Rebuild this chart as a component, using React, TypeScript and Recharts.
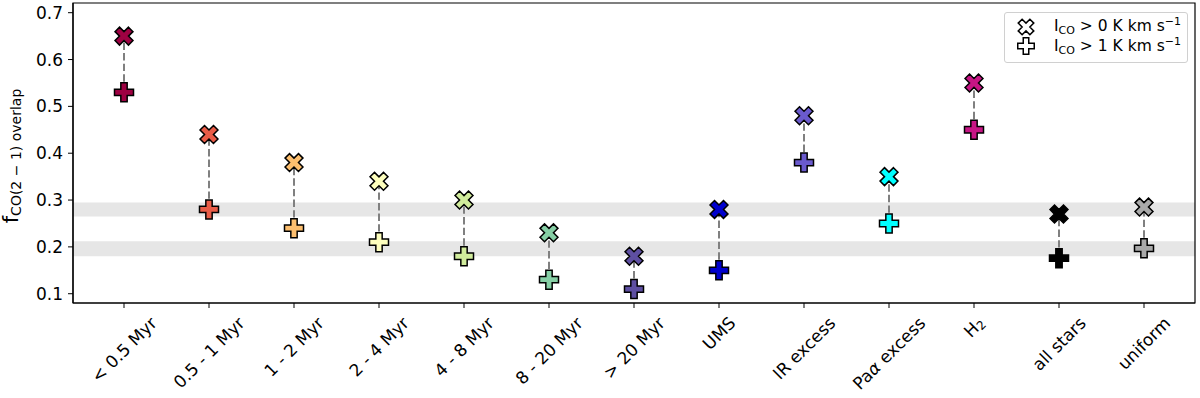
import React from 'react';
import {
  ScatterChart, Scatter, XAxis, YAxis, ReferenceArea, ReferenceLine, Legend,
} from 'recharts';

const categories = [
  '< 0.5 Myr', '0.5 - 1 Myr', '1 - 2 Myr', '2 - 4 Myr', '4 - 8 Myr', '8 - 20 Myr', '> 20 Myr',
  'UMS', 'IR excess', 'Paα excess', 'H2', 'all stars', 'uniform',
];
// I_CO > 0 K km/s (X markers) and I_CO > 1 K km/s (plus markers)
const overlapAbove0 = [0.65, 0.44, 0.38, 0.34, 0.30, 0.23, 0.18, 0.28, 0.48, 0.35, 0.55, 0.27, 0.285];
const overlapAbove1 = [0.53, 0.28, 0.24, 0.21, 0.18, 0.13, 0.11, 0.15, 0.38, 0.25, 0.45, 0.176, 0.197];
const markerColors = [
  '#9e0142', '#e95c47', '#fdbf6f', '#feffbe', '#d1ec9c', '#86cfa5', '#5e4fa2',
  '#0000cd', '#6a5acd', '#00ffff', '#c71585', '#000000', '#a9a9a9',
];
const grayBands = [[0.18, 0.212], [0.265, 0.295]];
const yTicks = [0.1, 0.2, 0.3, 0.4, 0.5, 0.6, 0.7];
const xTicks = categories.map((_, i) => i);
const xDomain = [-0.6, 12.6];
const yDomain = [0.0802, 0.7207];

const FONT = 'DejaVu Sans';
const TICK_FS = 17;
const MS = 19;

const highPts = categories.map((_, i) => ({ x: i, y: overlapAbove0[i], color: markerColors[i] }));
const lowPts = categories.map((_, i) => ({ x: i, y: overlapAbove1[i], color: markerColors[i] }));

// matplotlib filled plus path, unit size
const plusVerts = [[-1, -3], [1, -3], [1, -1], [3, -1], [3, 1], [1, 1], [1, 3], [-1, 3], [-1, 1], [-3, 1], [-3, -1], [-1, -1]];

const markerPath = (cx: number, cy: number, size: number, rotate: boolean) => {
  const c = Math.SQRT1_2;
  return plusVerts.map(([a, b], k) => {
    let px = (a / 6) * size;
    let py = (b / 6) * size;
    if (rotate) {
      const rx = px * c - py * c;
      const ry = px * c + py * c;
      px = rx; py = ry;
    }
    return `${k === 0 ? 'M' : 'L'}${(cx + px).toFixed(2)},${(cy + py).toFixed(2)}`;
  }).join(' ') + ' Z';
};

const XMarker = (props: any) => (
  <path d={markerPath(props.cx, props.cy, MS, true)} fill={props.payload.color} stroke="#000" strokeWidth={1.5} strokeLinejoin="miter" />
);
const PlusMarker = (props: any) => (
  <path d={markerPath(props.cx, props.cy, MS, false)} fill={props.payload.color} stroke="#000" strokeWidth={1.5} strokeLinejoin="miter" />
);

let ctx: CanvasRenderingContext2D | null = null;
const measure = (text: string, size: number) => {
  if (!ctx) ctx = document.createElement('canvas').getContext('2d');
  if (!ctx) return text.length * size * 0.6;
  ctx.font = `${size}px "${FONT}"`;
  return ctx.measureText(text).width;
};

const labelBody = (label: string) => {
  if (label === 'H2') {
    return [<tspan key="h">H</tspan>, <tspan key="s" fontSize={12} dy={4}>2</tspan>];
  }
  if (label === 'Paα excess') {
    return [<tspan key="p">Pa</tspan>, <tspan key="a" fontStyle="italic">α</tspan>, <tspan key="e"> excess</tspan>];
  }
  return label;
};

const XTick = (props: any) => {
  const { x, y, payload } = props;
  const label = categories[payload.value];
  const w = measure(label === 'H2' ? 'H₂' : label, TICK_FS);
  const h = TICK_FS * 1.164;
  const cy = y + 5 + (w + h) * 0.3536;
  return (
    <g transform={`translate(${x},${cy}) rotate(-45)`}>
      <text textAnchor="middle" dominantBaseline="central" fontFamily={FONT} fontSize={TICK_FS} fill="#000">
        {labelBody(label)}
      </text>
    </g>
  );
};

const YLabel = (props: any) => {
  const vb = props.viewBox || { y: 3, height: 300 };
  const cy = vb.y + vb.height / 2 + 3;
  return (
    <text transform={`translate(18,${cy}) rotate(-90)`} textAnchor="middle" fontFamily={FONT} fill="#000">
      <tspan fontSize={21}>f</tspan>
      <tspan fontSize={14} dy={3}>CO(2 − 1) overlap</tspan>
    </text>
  );
};

const LegendMarker = ({ rotate }: { rotate: boolean }) => (
  <svg width={22} height={20} style={{ display: 'block' }}>
    <path d={markerPath(11, 10, 16.5, rotate)} fill="#fff" stroke="#000" strokeWidth={1.5} />
  </svg>
);

const LegendRow = ({ rotate, value }: { rotate: boolean, value: string }) => (
  <div style={{ display: 'flex', alignItems: 'center', height: 19.5 }}>
    <div style={{ width: 22, marginLeft: 10, marginRight: 17 }}><LegendMarker rotate={rotate} /></div>
    <span style={{ fontFamily: FONT, fontSize: 15.5, whiteSpace: 'nowrap', color: '#000', lineHeight: '19px' }}>
      I<sub style={{ fontSize: 11, verticalAlign: -3, lineHeight: 0 }}>CO</sub> &gt; {value} K km s<sup style={{ fontSize: 11, verticalAlign: 6, lineHeight: 0 }}>−1</sup>
    </span>
  </div>
);

const renderLegend = () => (
  <div style={{
    border: '1px solid #d0d0d0', borderRadius: 3, background: 'rgba(255,255,255,0.8)',
    width: 184, height: 51, boxSizing: 'border-box', paddingTop: 4, display: 'flex', flexDirection: 'column',
  }}>
    <LegendRow rotate value="0" />
    <LegendRow rotate={false} value="1" />
  </div>
);

export default function App() {
  return (
    <div style={{ position: 'absolute', left: 0, top: 0, width: 1200, height: 398, background: '#fff' }}>
      <ScatterChart width={1200} height={398} margin={{ top: 3, right: 5, bottom: 0, left: 0 }}>
        {grayBands.map(([lo, hi], i) => (
          <ReferenceArea key={`band${i}`} y1={lo} y2={hi} fill="#e6e6e6" fillOpacity={1} stroke="none" ifOverflow="hidden" />
        ))}
        <ReferenceArea
          x1={xDomain[0]} x2={xDomain[1]} y1={yDomain[0]} y2={yDomain[1]}
          fill="none" fillOpacity={0} stroke="#000" strokeWidth={1.2} ifOverflow="visible"
        />
        <XAxis
          type="number" dataKey="x" domain={xDomain} ticks={xTicks} interval={0} allowDataOverflow
          height={95} tickSize={5} tickMargin={0} tick={<XTick />}
          axisLine={{ stroke: '#000', strokeWidth: 1.2 }} tickLine={{ stroke: '#000', strokeWidth: 1 }}
        />
        <YAxis
          type="number" dataKey="y" domain={yDomain} ticks={yTicks} allowDataOverflow
          width={73} tickSize={5} tickMargin={5} tickFormatter={(v: number) => v.toFixed(1)}
          tick={{ fill: '#000', fontSize: TICK_FS, fontFamily: FONT }}
          axisLine={{ stroke: '#000', strokeWidth: 1.2 }} tickLine={{ stroke: '#000', strokeWidth: 1 }}
          label={{ content: (p: any) => <YLabel {...p} /> }}
        />
        {categories.map((_, i) => (
          <ReferenceLine
            key={`link${i}`}
            segment={[{ x: i, y: overlapAbove1[i] }, { x: i, y: overlapAbove0[i] }]}
            stroke="#808080" strokeWidth={2} strokeDasharray="7.4 3.2"
          />
        ))}
        <Scatter data={highPts} shape={<XMarker />} isAnimationActive={false} legendType="none" />
        <Scatter data={lowPts} shape={<PlusMarker />} isAnimationActive={false} legendType="none" />
        <Legend
          content={renderLegend} layout="horizontal" verticalAlign="middle" align="center"
          wrapperStyle={{ left: 1004, top: 12, width: 184, height: 51 }}
        />
      </ScatterChart>
    </div>
  );
}
